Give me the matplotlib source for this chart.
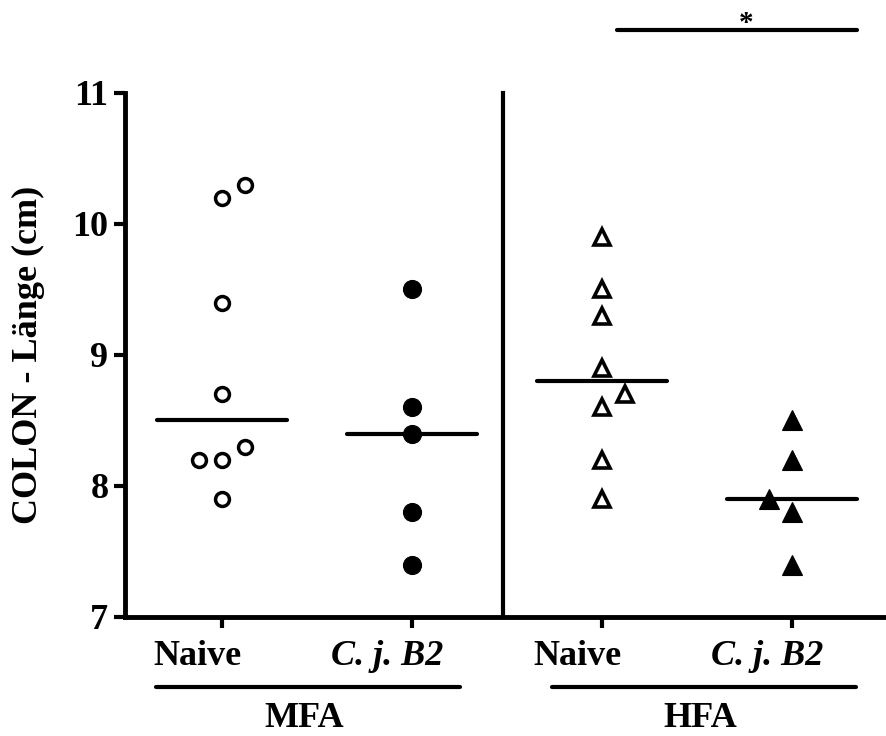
import matplotlib.pyplot as plt
import numpy as np
from matplotlib.transforms import blended_transform_factory

plt.rcParams['font.family'] = 'Liberation Serif'
plt.rcParams['font.weight'] = 'bold'
plt.rcParams['axes.labelweight'] = 'bold'

# data (colon length in cm)
labels = ['Naive', 'C. j. B2', 'Naive', 'C. j. B2']
groups = ['MFA', 'HFA']
mfa_naive = [10.2, 10.3, 9.4, 8.7, 8.3, 8.2, 8.2, 7.9]
mfa_cj = [9.5, 8.6, 8.4, 7.8, 7.4]
hfa_naive = [9.9, 9.5, 9.3, 8.9, 8.7, 8.6, 8.2, 7.9]
hfa_cj = [8.5, 8.2, 7.9, 7.8, 7.4]

# horizontal spread of overlapping points (category units)
jit_mfa_naive = [0, 0.12, 0, 0, 0.12, -0.12, 0, 0]
jit_mfa_cj = [0, 0, 0, 0, 0]
jit_hfa_naive = [0, 0, 0, 0, 0.12, 0, 0, 0]
jit_hfa_cj = [0, 0, -0.12, 0, 0]

series = [
    (mfa_naive, jit_mfa_naive, dict(marker='o', ms=10, mew=2.5, mfc='white', mec='black')),
    (mfa_cj, jit_mfa_cj, dict(marker='o', ms=13, mew=0.8, mfc='black', mec='black')),
    (hfa_naive, jit_hfa_naive, dict(marker='^', ms=11.5, mew=2.6, mfc='white', mec='black')),
    (hfa_cj, jit_hfa_cj, dict(marker='^', ms=14, mew=0.8, mfc='black', mec='black')),
]

fig = plt.figure(figsize=(8.87, 7.36), dpi=100)
ax = fig.add_axes([0.141, 0.1617, 0.859, 0.712])

xpos = np.arange(len(labels))
for i, (vals, jit, style) in enumerate(series):
    x = xpos[i] + np.array(jit)
    ax.plot(x, vals, linestyle='none', zorder=3, clip_on=False, **style)
    med = np.median(vals)
    ax.plot([xpos[i] - 0.34, xpos[i] + 0.34], [med, med], color='black',
            lw=3, solid_capstyle='round', zorder=4)

ax.set_xlim(-0.51, 3.5)
ax.set_ylim(7, 11)
ax.set_yticks([7, 8, 9, 10, 11])
ax.set_xticks(xpos)
ax.set_xticklabels([])

ax.spines['top'].set_visible(False)
ax.spines['right'].set_visible(False)
for s in ['left', 'bottom']:
    ax.spines[s].set_linewidth(3.5)
ax.tick_params(axis='both', width=3, length=8, labelsize=26, pad=4)

# divider between the two groups
ax.plot([1.48, 1.48], [7, 11], color='black', lw=3, clip_on=False)

ax.set_ylabel('COLON - Länge (cm)', fontsize=26, fontweight='bold')
ax.yaxis.set_label_coords(-0.105, 0.5)

tr = blended_transform_factory(ax.transData, fig.transFigure)

# category labels, sitting a little left of their ticks as in the original
for x, lab in zip(xpos, labels):
    ax.text(x - 0.13, 0.13, lab, transform=tr, ha='center', va='top', fontsize=26,
            style='italic' if lab.startswith('C.') else 'normal')

# group underlines and labels below the axis
group_shift = [-0.045, 0.037]
for k, g in enumerate(groups):
    c = (xpos[2 * k] + xpos[2 * k + 1]) / 2 + group_shift[k]
    ax.plot([c - 0.8, c + 0.8], [0.067, 0.067], transform=tr, color='black',
            lw=3, solid_capstyle='round', clip_on=False)
    ax.text(c - 0.02, 0.001, g, transform=tr, ha='center', va='bottom', fontsize=26)

# significance bar between the HFA groups
ax.plot([2.08, 3.34], [11.48, 11.48], color='black', lw=3, solid_capstyle='round',
        clip_on=False)
ax.text(2.76, 11.43, '*', ha='center', va='bottom', fontsize=21)

fig.savefig('out.png', dpi=100)
